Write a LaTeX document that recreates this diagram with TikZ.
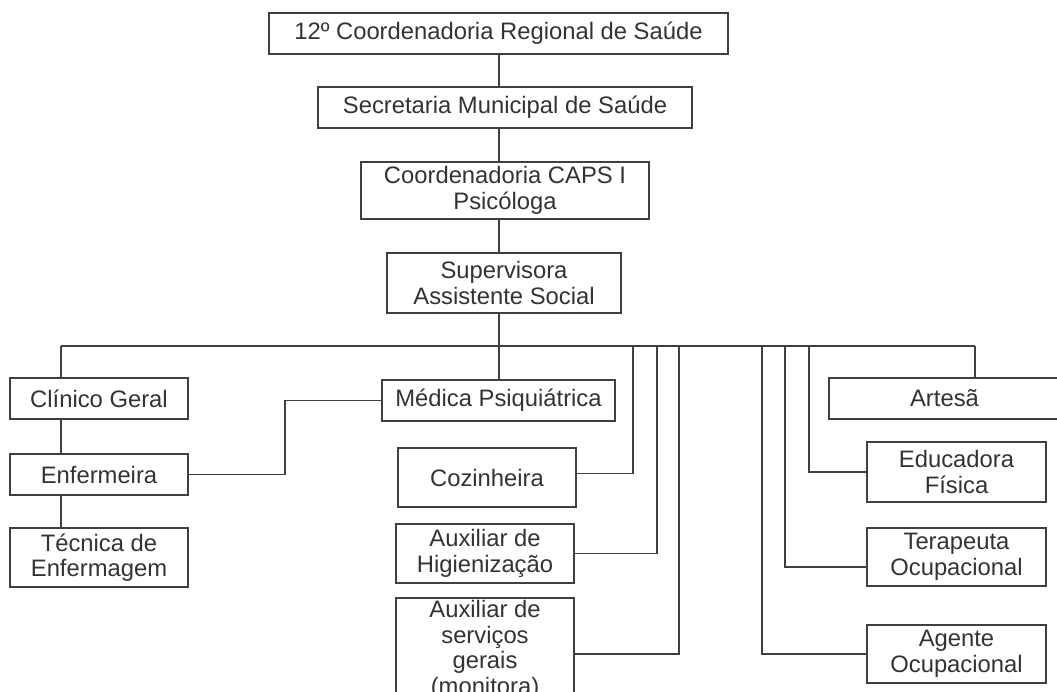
\documentclass[tikz,border=0pt]{standalone}
\usepackage{fontspec}
\setmainfont{Liberation Sans}
\begin{document}
\begin{tikzpicture}[x=1pt,y=-1pt,
  box/.style={draw=black!75, line width=1.4pt, inner sep=0pt, align=center,
    text=black!80, font=\fontsize{23.8}{25.5}\selectfont},
  link/.style={draw=black!75, line width=1.4pt}]
\useasboundingbox (0,0) rectangle (1057,691);
\fill[white] (0,0) rectangle (1057,691);
\clip (0,0) rectangle (1057,691);
% upper chain
\node[box, minimum width=459pt, minimum height=41pt] (top) at (498.5,33.5) {12º Coordenadoria Regional de Saúde};
\node[box, minimum width=374pt, minimum height=41pt] (sec) at (505,107.5) {Secretaria Municipal de Saúde};
\node[box, minimum width=288pt, minimum height=57pt] (caps) at (505,190.5) {Coordenadoria CAPS I\\Psicóloga};
\node[box, minimum width=234pt, minimum height=60pt] (sup) at (504,283) {Supervisora\\Assistente Social};
% left column
\node[box, minimum width=178pt, minimum height=41pt] (clin) at (99,398.5) {Clínico Geral};
\node[box, minimum width=178pt, minimum height=41pt] (enf) at (99,474.5) {Enfermeira};
\node[box, minimum width=178pt, minimum height=59pt] (tec) at (99,557.5) {Técnica de\\Enfermagem};
% middle
\node[box, minimum width=233pt, minimum height=41pt] (med) at (498.5,400.5) {Médica Psiquiátrica};
\node[box, minimum width=178pt, minimum height=59pt] (coz) at (487,477.5) {Cozinheira};
\node[box, minimum width=178pt, minimum height=59pt] (auxh) at (485,553.5) {Auxiliar de\\Higienização};
\node[box, minimum width=178pt, minimum height=104pt] (auxs) at (485,650) {Auxiliar de\\serviços\\gerais\\(monitora)};
% right
\node[box, minimum width=231pt, minimum height=41pt] (art) at (944.5,398.5) {Artesã};
\node[box, minimum width=179pt, minimum height=60pt] (edu) at (956.5,472) {Educadora\\Física};
\node[box, minimum width=179pt, minimum height=58pt] (ter) at (956.5,557) {Terapeuta\\Ocupacional};
\node[box, minimum width=179pt, minimum height=58pt] (age) at (956.5,654) {Agente\\Ocupacional};
% coordinates
\coordinate (spine) at (499,346);
\coordinate (busL) at (61,346);
\coordinate (busR) at (975,346);
\coordinate (jm) at (285,346);
\coordinate (c1) at (633,346);
\coordinate (c2) at (657,346);
\coordinate (c3) at (679,346);
\coordinate (c4) at (762,346);
\coordinate (c5) at (785,346);
\coordinate (c6) at (809,346);
% connectors
\draw[link] (spine |- top.south) -- (spine |- sec.north);
\draw[link] (spine |- sec.south) -- (spine |- caps.north);
\draw[link] (spine |- caps.south) -- (spine |- sup.north);
\draw[link] (spine |- sup.south) -- (spine);
\draw[link] (busL) -- (busR);
\draw[link] (busL) -- (busL |- clin.north);
\draw[link] (busL |- clin.south) -- (busL |- enf.north);
\draw[link] (busL |- enf.south) -- (busL |- tec.north);
\draw[link] (enf.east) -- (enf.east -| jm) |- (med.west);
\draw[link] (spine) -- (spine |- med.north);
\draw[link] (c1) |- ([yshift=4pt]coz.east);
\draw[link] (c2) |- (auxh.east);
\draw[link] (c3) |- ([yshift=-4pt]auxs.east);
\draw[link] (c4) |- (age.west);
\draw[link] (c5) |- ([yshift=-10pt]ter.west);
\draw[link] (c6) |- (edu.west);
\draw[link] (busR) -- (busR |- art.north);
\end{tikzpicture}
\end{document}
